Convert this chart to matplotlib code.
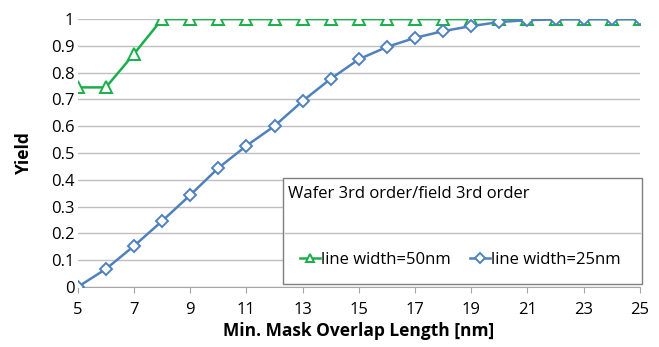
import matplotlib.pyplot as plt
from matplotlib.patches import Rectangle
from matplotlib.lines import Line2D

overlap_nm = list(range(5, 26))
yield_50nm = [0.745, 0.745, 0.87, 1, 1, 1, 1, 1, 1, 1, 1, 1, 1, 1, 1, 1, 1, 1, 1, 1, 1]
yield_25nm = [0.0, 0.067, 0.153, 0.246, 0.343, 0.444, 0.527, 0.601, 0.694, 0.777,
              0.85, 0.896, 0.93, 0.955, 0.974, 0.989, 0.996, 0.999, 1.0, 1.0, 1.0]
x_ticks = list(range(5, 26, 2))
y_ticks = [round(0.1 * i, 1) for i in range(11)]
y_ticklabels = ['0'] + [f'{v:.1f}' for v in y_ticks[1:-1]] + ['1']
legend_title = 'Wafer 3rd order/field 3rd order'

plt.rcParams['font.family'] = ['Open Sans', 'DejaVu Sans']

green = '#1aaf4b'
blue = '#4f81bd'

fig = plt.figure(figsize=(6.59, 3.47), dpi=100)
ax = fig.add_axes([0.118, 0.173, 0.853, 0.772])

ax.plot(overlap_nm, yield_50nm, color=green, lw=1.8, marker='^', ms=8,
        mfc='white', mec=green, mew=1.4, label='line width=50nm', zorder=3)
ax.plot(overlap_nm, yield_25nm, color=blue, lw=1.8, marker='D', ms=6,
        mfc='white', mec=blue, mew=1.4, label='line width=25nm', zorder=4)

ax.set_xlim(5, 25)
ax.set_ylim(0, 1)
ax.set_xticks(x_ticks)
ax.set_yticks(y_ticks)
ax.set_yticklabels(y_ticklabels)
ax.tick_params(axis='y', length=0, labelsize=12, pad=2.5)
ax.tick_params(axis='x', length=4, color='#a6a6a6', direction='out', labelsize=12, pad=6.5)
ax.grid(axis='y', color='#bfbfbf', lw=1)
ax.set_axisbelow(True)
for side in ['left', 'right', 'top']:
    ax.spines[side].set_visible(False)
ax.spines['bottom'].set_color('#a6a6a6')

ax.set_xlabel('Min. Mask Overlap Length [nm]', fontsize=12.5, fontweight='bold', labelpad=3)
ax.set_ylabel('Yield', fontsize=12.5, fontweight='bold', labelpad=13)

# legend box with title and separator
x0, y0, w, h = 0.365, 0.011, 0.639, 0.396
ax.add_patch(Rectangle((x0, y0), w, h, transform=ax.transAxes, facecolor='white',
                       edgecolor='#7f7f7f', lw=1, zorder=5, clip_on=False))
ax.text(0.374, 0.347, legend_title, transform=ax.transAxes, fontsize=12,
        va='center', ha='left', zorder=6)
ax.add_line(Line2D([x0 + 0.004, x0 + w - 0.004], [0.2, 0.2], transform=ax.transAxes,
                   color='#bfbfbf', lw=1, zorder=6, clip_on=False))
handles, labels = ax.get_legend_handles_labels()
leg = ax.legend(handles, labels, loc='center left', bbox_to_anchor=(0.395, 0.1),
                ncol=2, frameon=False, fontsize=12, handlelength=1.2,
                handletextpad=0.1, columnspacing=1.1, borderaxespad=0, borderpad=0)
for lh in leg.legend_handles:
    lh.set_markersize(5.5)
leg.set_zorder(7)

fig.savefig('out.png', dpi=100)
